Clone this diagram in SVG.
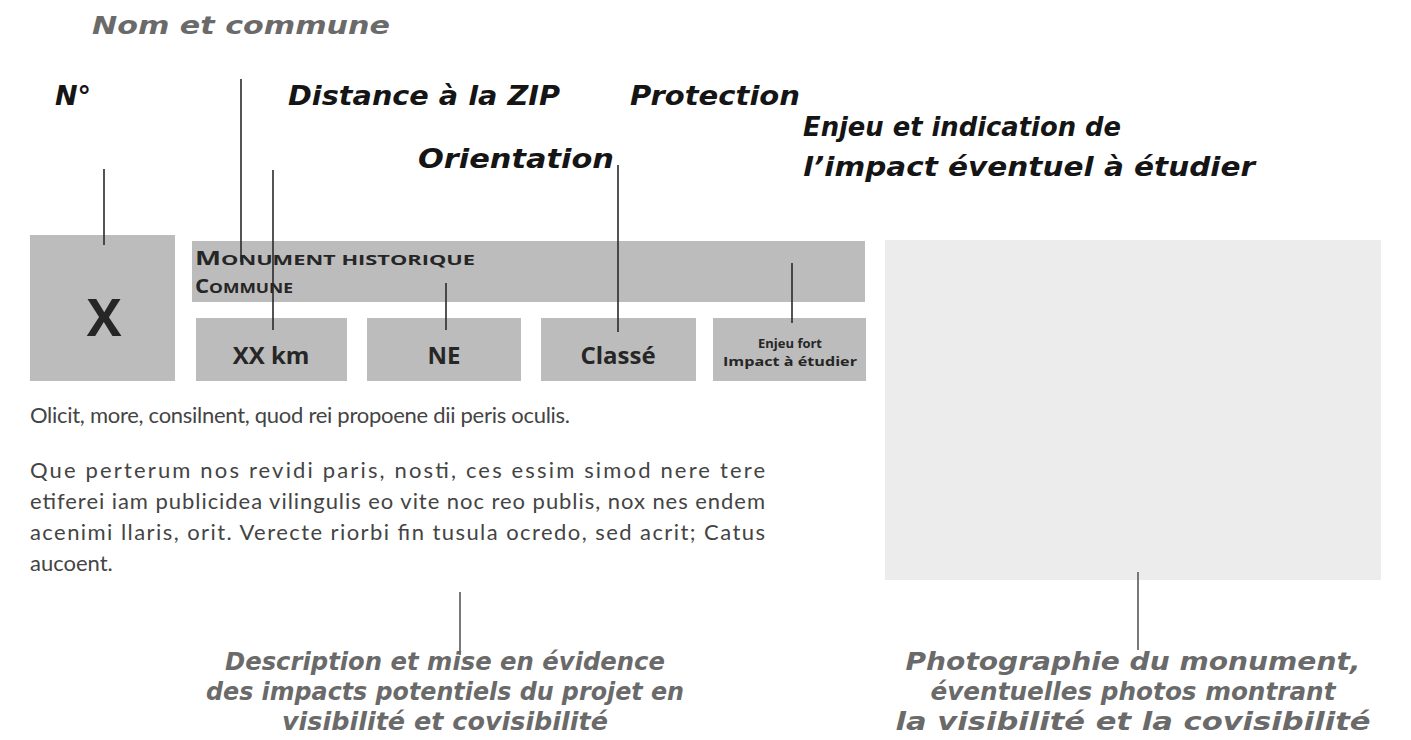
<svg xmlns="http://www.w3.org/2000/svg" width="1411" height="740" viewBox="0 0 1411 740">
<style>
.box{fill:#bcbcbc}
.hand{font-family:"DejaVu Sans",sans-serif;font-style:oblique;font-weight:bold;font-size:27px;fill:#151515}
.handg{font-family:"DejaVu Sans",sans-serif;font-style:oblique;font-weight:bold;font-size:25px;fill:#6a6a6a}
.body{font-family:Lato,"Open Sans",sans-serif;font-weight:400;font-size:22px;fill:#444444}
.lbl{font-family:"Open Sans","DejaVu Sans",sans-serif;font-weight:bold;fill:#262626}
.ln{stroke:#2a2a2a;stroke-width:1.6;fill:none}
.lng{stroke:#6a6a6a;stroke-width:1.8;fill:none}
</style>
<rect width="1411" height="740" fill="#ffffff"/>
<g id="numero">
<rect class="box" x="30" y="235" width="145" height="146"/>
<text class="lbl" x="104" y="336" font-size="52" text-anchor="middle">X</text>
</g>
<g id="nom">
<rect class="box" x="192" y="241" width="673" height="61"/>
<text class="lbl" x="195" y="265" textLength="280" lengthAdjust="spacingAndGlyphs"><tspan font-size="19">M</tspan><tspan font-size="15">ONUMENT HISTORIQUE</tspan></text>
<text class="lbl" x="195" y="293" textLength="98" lengthAdjust="spacingAndGlyphs"><tspan font-size="19">C</tspan><tspan font-size="15">OMMUNE</tspan></text>
</g>
<g id="distance">
<rect class="box" x="196" y="318" width="151" height="63"/>
<text class="lbl" x="271" y="364" font-size="24" text-anchor="middle">XX km</text>
</g>
<g id="orientation">
<rect class="box" x="367" y="318" width="154" height="63"/>
<text class="lbl" x="444" y="364" font-size="24" text-anchor="middle">NE</text>
</g>
<g id="protection">
<rect class="box" x="541" y="318" width="155" height="63"/>
<text class="lbl" x="618" y="364" font-size="24" text-anchor="middle">Classé</text>
</g>
<g id="enjeu">
<rect class="box" x="713" y="318" width="153" height="63"/>
<text class="lbl" x="790" y="348" font-size="13" text-anchor="middle">Enjeu fort</text>
<text class="lbl" x="790" y="366" font-size="13" text-anchor="middle" textLength="134" lengthAdjust="spacingAndGlyphs">Impact à étudier</text>
</g>
<g id="photo">
<rect x="885" y="240" width="496" height="340" fill="#ececec"/>
</g>
<g id="texte">
<text class="body" x="30" y="423" textLength="540" lengthAdjust="spacing">Olicit, more, consilnent, quod rei propoene dii peris oculis.</text>
<text class="body" x="30" y="478" textLength="735" lengthAdjust="spacing">Que perterum nos revidi paris, nosti, ces essim simod nere tere</text>
<text class="body" x="30" y="509" textLength="735" lengthAdjust="spacing">etiferei iam publicidea vilingulis eo vite noc reo publis, nox nes endem</text>
<text class="body" x="30" y="540" textLength="735" lengthAdjust="spacing">acenimi llaris, orit. Verecte riorbi fin tusula ocredo, sed acrit; Catus</text>
<text class="body" x="30" y="571">aucoent.</text>
</g>
<g id="connecteurs">
<line class="ln" x1="104" y1="169" x2="104" y2="245"/>
<line class="ln" x1="241" y1="79" x2="241" y2="262"/>
<line class="ln" x1="273" y1="170" x2="273" y2="330"/>
<line class="ln" x1="446" y1="283" x2="446" y2="330"/>
<line class="ln" x1="618" y1="165" x2="618" y2="332"/>
<line class="ln" x1="792" y1="263" x2="792" y2="323"/>
<line class="lng" x1="460" y1="592" x2="460" y2="655"/>
<line class="lng" x1="1138" y1="572" x2="1138" y2="650"/>
</g>
<g id="etiquettes">
<text class="handg" x="92" y="34" textLength="298" lengthAdjust="spacingAndGlyphs" fill="#555">Nom et commune</text>
<text class="hand" x="55" y="105">N°</text>
<text class="hand" x="288" y="105" textLength="272" lengthAdjust="spacingAndGlyphs">Distance à la ZIP</text>
<text class="hand" x="630" y="105" textLength="170" lengthAdjust="spacingAndGlyphs">Protection</text>
<text class="hand" x="418" y="168" textLength="196" lengthAdjust="spacingAndGlyphs">Orientation</text>
<text class="hand" x="803" y="136" textLength="318" lengthAdjust="spacingAndGlyphs">Enjeu et indication de</text>
<text class="hand" x="803" y="176" textLength="452" lengthAdjust="spacingAndGlyphs">l’impact éventuel à étudier</text>
<text class="handg" x="445" y="670" text-anchor="middle" textLength="440" lengthAdjust="spacingAndGlyphs">Description et mise en évidence</text>
<text class="handg" x="445" y="700" text-anchor="middle" textLength="478" lengthAdjust="spacingAndGlyphs">des impacts potentiels du projet en</text>
<text class="handg" x="445" y="730" text-anchor="middle" textLength="326" lengthAdjust="spacingAndGlyphs">visibilité et covisibilité</text>
<text class="handg" x="1133" y="670" text-anchor="middle" textLength="455" lengthAdjust="spacingAndGlyphs">Photographie du monument,</text>
<text class="handg" x="1133" y="700" text-anchor="middle" textLength="405" lengthAdjust="spacingAndGlyphs">éventuelles photos montrant</text>
<text class="handg" x="1133" y="730" text-anchor="middle" textLength="475" lengthAdjust="spacingAndGlyphs">la visibilité et la covisibilité</text>
</g>
</svg>
